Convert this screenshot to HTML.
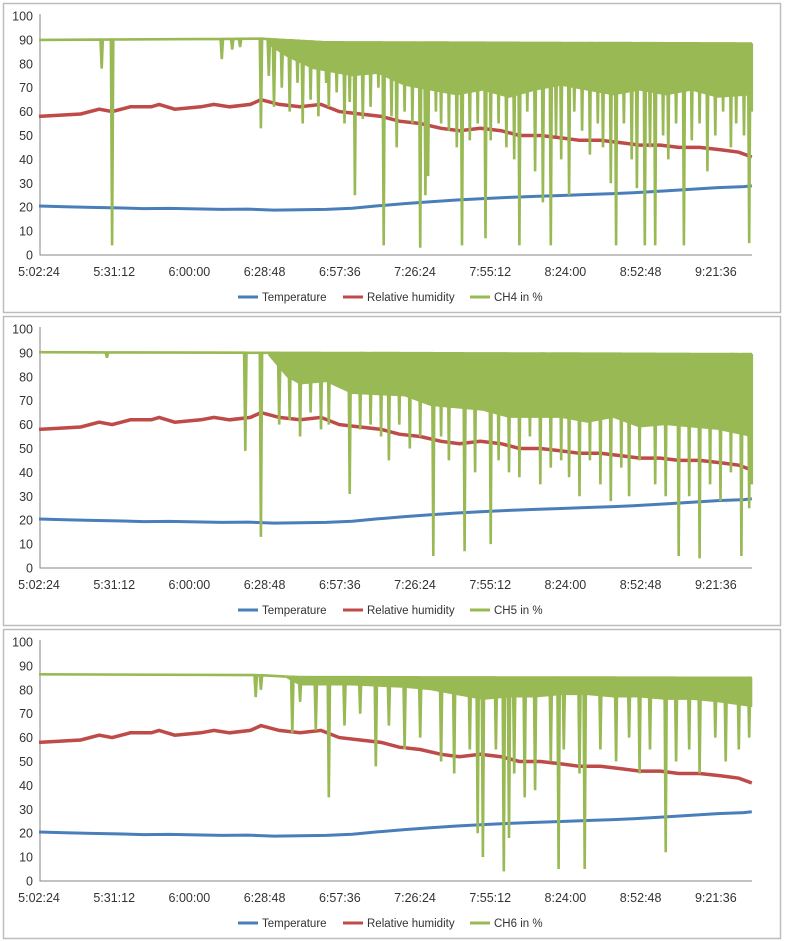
<!DOCTYPE html>
<html><head><meta charset="utf-8"><style>
body{margin:0;background:#fff;font-family:"Liberation Sans",sans-serif}
svg{display:block}
text{font-family:"Liberation Sans",sans-serif;fill:#333}
</style></head><body>
<svg id="svg" width="785" height="941" viewBox="0 0 785 941" xmlns="http://www.w3.org/2000/svg"></svg>
<script>
const xTickLabels=["5:02:24","5:31:12","6:00:00","6:28:48","6:57:36","7:26:24","7:55:12","8:24:00","8:52:48","9:21:36"];
const yTickLabels=[0,10,20,30,40,50,60,70,80,90,100];
const tempMin=[0,10,20,30,40,50,60,70,80,90,100,110,120,130,140,150,160,170,180,190,200,210,220,230,240,250,260,270,273];
const tempVal=[20.5,20.2,19.9,19.7,19.4,19.5,19.3,19.1,19.2,18.8,18.9,19.1,19.6,20.6,21.5,22.3,23.0,23.6,24.1,24.5,24.9,25.3,25.7,26.2,26.8,27.5,28.2,28.6,29];
const humMin=[0,16,23,28,35,43,46,52,62,67,73,81,85,92,100,108,115,123,131,138,146,154,161,169,177,184,192,200,207,215,223,230,238,245,253,261,268,273];
const humVal=[58,59,61,60,62,62,63,61,62,63,62,63,65,63,62,63,60,59,58,56,55,53,52,53,52,50,50,49,48,48,47,46,46,45,45,44,43,41];
const ch4Base=[[0,90],[85,90.5],[110,89],[273,88.5]];
const ch4DipMin=[24,28,70,74,77,85,88,90,93,96,99,101,104,107,110,111,114,117,119,121,124,127,130,132,135,137,140,143,146,148,149,152,154,157,160,162,165,168,171,173,176,179,182,184,187,190,193,196,198,200,203,205,208,211,214,216,219,221,224,227,229,232,234,236,239,241,244,247,250,253,256,259,262,265,267,270,272,273];
const ch4DipVal=[78,4,82,86,87,53,75,62,70,60,72,55,65,58,72,62,68,55,64,25,57,62,70,4,58,45,60,55,3,25,33,60,55,52,45,4,48,55,7,48,55,45,40,4,60,35,22,4,50,40,25,60,52,42,55,45,30,4,55,40,28,4,45,4,50,40,55,4,48,55,35,50,60,45,55,50,5,60];
const ch4EnvMin=[88,95,105,120,130,140,150,160,170,180,190,200,210,220,230,240,250,260,273];
const ch4EnvVal=[88,83,78,75,76,71,69,67,69,66,69,71,69,67,69,67,69,66,67];
const ch5Base=[[0,90.3],[273,89.5]];
const ch5DipMin=[26,79,85,92,96,100,104,108,111,119,123,127,131,134,138,142,146,151,154,157,163,167,173,176,180,184,188,192,196,200,203,207,211,215,219,223,226,230,236,240,245,249,253,257,261,265,269,272,273];
const ch5DipVal=[88,49,13,60,62,55,65,58,60,31,58,60,55,45,60,50,55,5,55,45,7,40,10,45,40,38,55,35,42,45,38,30,45,35,28,42,30,45,35,30,5,30,4,35,28,40,5,25,35];
const ch5EnvMin=[88,95,100,110,120,140,150,160,170,180,190,200,210,220,230,240,250,260,273];
const ch5EnvVal=[89,80,77,78,73,72,68,67,66,63,63,63,61,63,59,60,59,58,55];
const ch6Base=[[0,86.5],[80,86.3],[100,85.3],[273,85]];
const ch6DipMin=[83,85,97,100,106,111,117,123,129,134,140,146,154,159,165,168,170,175,178,180,182,186,190,196,199,201,207,209,215,221,226,230,234,240,244,249,253,259,263,268,272];
const ch6DipVal=[77,80,62,75,63,35,65,70,48,65,55,60,50,45,55,20,10,55,4,18,45,35,38,50,5,55,45,5,55,50,60,45,55,12,50,55,45,60,50,55,60];
const ch6EnvMin=[95,100,120,140,150,160,170,180,190,200,210,220,230,240,250,260,273];
const ch6EnvVal=[85,82,82,81,80,78,76,77,77,78,78,77,77,76,76,75,73];

const svg=document.getElementById('svg');
const NS='http://www.w3.org/2000/svg';
function mk(tag,attrs,parent){const e=document.createElementNS(NS,tag);for(const k in attrs)e.setAttribute(k,attrs[k]);(parent||svg).appendChild(e);return e;}
const X0=39, PX_PER_MIN=75.2/28.8;
function xs(m){return X0+m*PX_PER_MIN;}
function baseAt(base,m){for(let i=1;i<base.length;i++){if(m<=base[i][0]){const a=base[i-1],b=base[i];return a[1]+(b[1]-a[1])*(m-a[0])/(b[0]-a[0]);}}return base[base.length-1][1];}

function drawChart(top,base,dipMin,dipVal,envMin,envVal,label){
  const g=mk('g',{});
  
  
  const frame=mk('rect',{x:3.5,y:top+0.5,width:777,height:309,fill:'#fff',stroke:'#bdbdbd','stroke-width':1.5},g);
  
  
  const y0=top+252, y100=top+13;
  const ys=v=>y0-(v/100)*(y0-y100);
  yTickLabels.forEach(v=>{
    const t=mk('text',{x:33,y:ys(v)+4.5,'text-anchor':'end','font-size':12.5},g);t.textContent=v;
    
    
  });
  xTickLabels.forEach((s,i)=>{
    const t=mk('text',{x:xs(i*28.8),y:y0+21,'text-anchor':'middle','font-size':12.5},g);t.textContent=s;
    
    
  });
  const ax=mk('path',{d:`M${X0+1} ${y100-2}V${y0}H752`,fill:'none',stroke:'#868686','stroke-width':1},g);
  
  
  const tp=tempMin.map((m,i)=>xs(m).toFixed(1)+','+ys(tempVal[i]).toFixed(1)).join(' ');
  const tl=mk('polyline',{points:tp,fill:'none',stroke:'#4a7ebb','stroke-width':3},g);
  
  
  const hp=humMin.map((m,i)=>xs(m).toFixed(1)+','+ys(humVal[i]).toFixed(1)).join(' ');
  const hl=mk('polyline',{points:hp,fill:'none',stroke:'#be4b48','stroke-width':3.5},g);
  
  
  let band=envMin.map(m=>xs(m).toFixed(1)+','+ys(baseAt(base,m)).toFixed(1));
  for(let i=envMin.length-1;i>=0;i--)band.push(xs(envMin[i]).toFixed(1)+','+ys(envVal[i]).toFixed(1));
  const bp=mk('polygon',{points:band.join(' '),fill:'#98b954',stroke:'#98b954','stroke-width':1},g);
  
  
  let pts=[[0,baseAt(base,0)]];
  dipMin.forEach((m,i)=>{pts.push([m-0.45,baseAt(base,m)]);pts.push([m,dipVal[i]]);pts.push([Math.min(m+0.45,273),baseAt(base,m)]);});
  pts.push([273,baseAt(base,273)]);
  const gp=pts.map(p=>xs(p[0]).toFixed(1)+','+ys(p[1]).toFixed(1)).join(' ');
  const gl=mk('polyline',{points:gp,fill:'none',stroke:'#98b954','stroke-width':2.6,'stroke-linejoin':'miter'},g);
  
  
  const ly=top+294;
  const items=[['Temperature','#4a7ebb',238],['Relative humidity','#be4b48',343],[label,'#98b954',470]];
  items.forEach(it=>{
    const lg=mk('g',{},g);
    
    
    mk('line',{x1:it[2],y1:ly,x2:it[2]+20,y2:ly,stroke:it[1],'stroke-width':3},lg);
    const t=mk('text',{x:it[2]+24,y:ly+4,'font-size':11.5},lg);t.textContent=it[0];
  });
}
drawChart(3,ch4Base,ch4DipMin,ch4DipVal,ch4EnvMin,ch4EnvVal,'CH4 in %');
drawChart(316,ch5Base,ch5DipMin,ch5DipVal,ch5EnvMin,ch5EnvVal,'CH5 in %');
drawChart(629,ch6Base,ch6DipMin,ch6DipVal,ch6EnvMin,ch6EnvVal,'CH6 in %');
</script>
</body></html>
